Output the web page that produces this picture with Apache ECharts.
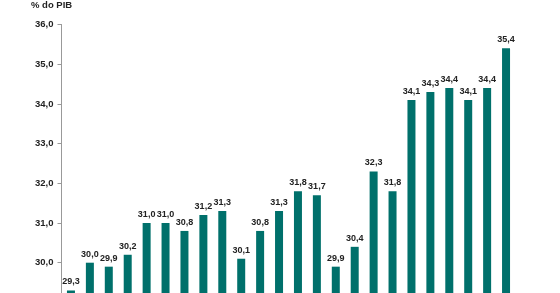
<!DOCTYPE html>
<html><head><meta charset="utf-8">
<script src="https://cdn.jsdelivr.net/npm/echarts@6/dist/echarts.min.js"></script>
<style>html,body{margin:0;padding:0;overflow:hidden;background:#fff;width:560px;height:293px}#c{width:560px;height:340px}</style>
</head><body><div id="c"></div>
<script>
const categories = ['1995','1996','1997','1998','1999','2000','2001','2002','2003','2004','2005','2006','2007','2008','2009','2010','2011','2012','2013','2014','2015','2016','2017','2018'];
const values = [29.3,30.0,29.9,30.2,31.0,31.0,30.8,31.2,31.3,30.1,30.8,31.3,31.8,31.7,29.9,30.4,32.3,31.8,34.1,34.3,34.4,34.1,34.4,35.4];
const yTicks = [29.0,30.0,31.0,32.0,33.0,34.0,35.0,36.0];
const fmt = v => v.toFixed(1).replace('.', ',');
const chart = echarts.init(document.getElementById('c'), null, {renderer:'canvas'});
chart.setOption({
  animation:false,
  textStyle:{fontFamily:'Liberation Sans, Arial, sans-serif'},
  title:{text:'% do PIB',left:31,top:0,padding:0,
    textStyle:{color:'#222',fontSize:9.5,fontWeight:'bold',fontFamily:'Liberation Sans, Arial, sans-serif'}},
  grid:{left:61.5,right:44.5,top:24.5,height:277.9},
  xAxis:{type:'category',data:categories,
    axisLine:{show:true,lineStyle:{color:'#999'}},axisTick:{show:false},
    axisLabel:{show:true,color:'#222',fontSize:9,fontWeight:'bold'}},
  yAxis:{type:'value',min:yTicks[0],max:yTicks[yTicks.length-1],interval:1,
    axisLine:{show:true,lineStyle:{color:'#999'}},
    axisTick:{show:true,length:4,lineStyle:{color:'#999'}},
    splitLine:{show:false},
    axisLabel:{color:'#222',fontSize:9.5,fontWeight:'bold',margin:8,formatter:v=>fmt(v)}},
  series:[{type:'bar',data:values,barWidth:8,itemStyle:{color:'#00706b'},
    label:{show:true,position:'top',distance:4,color:'#222',fontSize:9,fontWeight:'bold',formatter:p=>fmt(p.value)}}]
});
</script></body></html>
